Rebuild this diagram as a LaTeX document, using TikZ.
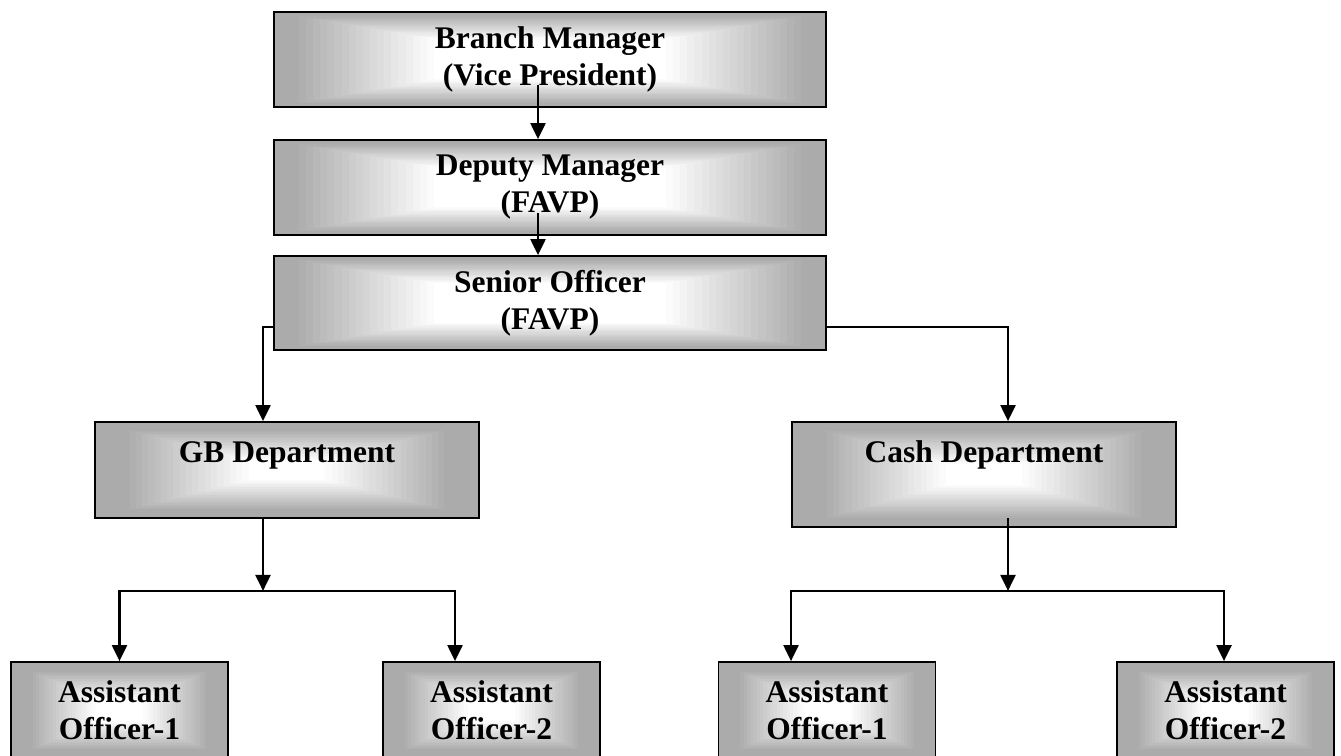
\documentclass[tikz,border=0pt]{standalone}
\usepackage{fontspec}
\setmainfont{Liberation Serif}
\usetikzlibrary{calc,arrows.meta}

\tikzset{
	shadebox/.style n args={2}{draw, line width=1.8pt, inner sep=0pt, align=center,
		font=\bfseries\fontsize{31.5}{37}\selectfont,
		path picture={
			\fill[black!33] (path picture bounding box.south west) rectangle (path picture bounding box.north east);
			\foreach \i in {1,...,20}{
				\pgfmathsetmacro\pp{#1+(#2-#1)*(\i-1)/19}
				\pgfmathsetmacro\shd{33-33*\i/20}
				\fill[black!\shd] ($(path picture bounding box.south west)!\pp!(path picture bounding box.center)$) rectangle ($(path picture bounding box.north east)!\pp!(path picture bounding box.center)$);
			}}},
	wire/.style={line width=2.2pt},
	arr/.style={wire, -{Triangle[width=15pt,length=16pt]}}
}

\begin{document}
\begin{tikzpicture}[x=1pt,y=-1pt]
		\useasboundingbox (0,0) rectangle (1341,755);
		\clip (0,0) rectangle (1341,755);
		\node[shadebox={0.09}{0.58}, minimum width=552pt, minimum height=95pt] (bm) at (550,59.5) {Branch Manager\\(Vice President)};
		\node[shadebox={0.09}{0.58}, minimum width=552pt, minimum height=95pt] (dm) at (550,187.5) {Deputy Manager\\(FAVP)};
		\node[shadebox={0.09}{0.58}, minimum width=552pt, minimum height=94pt] (so) at (550,303) {Senior Officer\\(FAVP)};
		\node[shadebox={0.18}{0.8}, minimum width=384pt, minimum height=96pt, text depth=36pt] (gb) at (287,470) {GB Department};
		\node[shadebox={0.18}{0.8}, minimum width=384pt, minimum height=105pt, text depth=45pt] (cash) at (984,474.5) {Cash Department};
		\node[shadebox={0.2}{0.78}, minimum width=217pt, minimum height=97pt] (gbao1) at (119.5,710.5) {Assistant\\Officer-1};
		\node[shadebox={0.2}{0.78}, minimum width=217pt, minimum height=97pt] (gbao2) at (491.5,710.5) {Assistant\\Officer-2};
		\node[shadebox={0.2}{0.78}, minimum width=217pt, minimum height=97pt] (cao1) at (827,710.5) {Assistant\\Officer-1};
		\node[shadebox={0.2}{0.78}, minimum width=217pt, minimum height=97pt] (cao2) at (1225.5,710.5) {Assistant\\Officer-2};

		\coordinate (bmout) at (538,85);
		\coordinate (dmout) at (538,213);
		\coordinate (gbjoin) at ([xshift=-24pt,yshift=-72pt]gb.south);
		\coordinate (cashjoin) at ([xshift=24pt,yshift=-63pt]cash.south);

		\draw[arr] (bmout) -- (bmout |- dm.north);
		\draw[arr] (dmout) -- (dmout |- so.north);
		\draw[arr] ([yshift=-24pt]so.west) -| ([xshift=-24pt]gb.north);
		\draw[arr] ([yshift=-24pt]so.east) -| ([xshift=24pt]cash.north);
		\draw[arr] ([xshift=-24pt]gb.south) -- (gbjoin);
		\draw[arr] (gbjoin) -| (gbao1.north);
		\draw[arr] (gbjoin) -| ([xshift=-36.5pt]gbao2.north);
		\draw[arr] ([xshift=24pt,yshift=10pt]cash.south) -- (cashjoin);
		\draw[arr] (cashjoin) -| ([xshift=-36pt]cao1.north);
		\draw[arr] (cashjoin) -| ([xshift=-1.5pt]cao2.north);
\end{tikzpicture}
\end{document}
